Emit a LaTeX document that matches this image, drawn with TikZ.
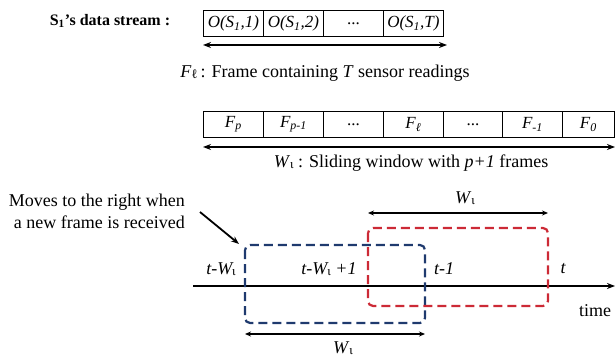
\documentclass[tikz,border=0pt]{standalone}
\usepackage{fontspec}
\setmainfont{Liberation Serif}
\usetikzlibrary{arrows.meta}
\definecolor{navy}{HTML}{1F3A6E}
\definecolor{wred}{HTML}{CC2A36}
\newcommand\mysub[1]{\raisebox{-1.5pt}{\fontsize{13}{14}\selectfont\upshape #1}}
\tikzset{
  txt/.style={inner sep=0pt, font=\fontsize{18}{22}\selectfont},
  itxt/.style={inner sep=0pt, font=\fontsize{18}{22}\selectfont\itshape},
  cell/.style={draw, line width=0.8pt, minimum height=26pt, inner sep=0pt, anchor=north west, font=\fontsize{17}{20}\selectfont\itshape},
  dcell/.style={cell, font=\fontsize{17}{20}\selectfont},
  dbl/.style={{Stealth[length=8pt,width=6pt]}-{Stealth[length=8pt,width=6pt]}, line width=2pt},
  thin/.style={{Stealth[length=6pt,width=5pt]}-{Stealth[length=6pt,width=5pt]}, line width=1.4pt},
  win/.style={dash pattern=on 9pt off 5pt, line width=2.2pt, rounded corners=5pt},
}
\begin{document}
\begin{tikzpicture}[x=1pt,y=-1pt]
\useasboundingbox (0,0) rectangle (615,358);
% title
\node[inner sep=0pt, font=\fontsize{16}{18}\selectfont\bfseries] (title) at (110,21) {S\textsubscript{1}’s data stream :};
% top cells
\node[cell, minimum width=60pt] (o1) at (203,10) {O(S\textsubscript{1},1)};
\node[cell, minimum width=60pt] (o2) at (263,10) {O(S\textsubscript{1},2)};
\node[dcell, minimum width=60pt] (o3) at (323,10) {...};
\node[cell, minimum width=60pt] (o4) at (383,10) {O(S\textsubscript{1},T)};
\coordinate (a1) at (203,45);
\coordinate (a2) at (447,45);
\draw[dbl] (a1) -- (a2);
\node[txt] (flab) at (325,73) {\textit{F}\mysub{ℓ}\,: Frame containing \textit{T} sensor readings};
% second row
\node[cell, minimum width=60pt] (f1) at (203,111) {F\textsubscript{\textit{p}}};
\node[cell, minimum width=60pt] (f2) at (263,111) {F\textsubscript{\textit{p}-1}};
\node[dcell, minimum width=60pt] (f3) at (323,111) {...};
\node[cell, minimum width=60pt] (f4) at (383,111) {F\textsubscript{ℓ}};
\node[dcell, minimum width=59pt] (f5) at (443,111) {...};
\node[cell, minimum width=60pt] (f6) at (502,111) {F\textsubscript{-1}};
\node[cell, minimum width=52pt] (f7) at (562,111) {F\textsubscript{0}};
\coordinate (b1) at (203,147);
\coordinate (b2) at (615,147);
\draw[dbl] (b1) -- (b2);
\node[txt] (wlab) at (411,163) {\textit{W}\mysub{ι} : Sliding window with \textit{p+1} frames};
% moves label
\node[txt, align=right, anchor=east] (moves) at (185,211) {Moves to the right when\\a new frame is received};
\coordinate (m1) at (200,212);
\coordinate (m2) at (239,244);
\draw[-{Stealth[length=8pt,width=6pt]}, line width=1.8pt] (m1) -- (m2);
% time axis
\coordinate (t0) at (193,286);
\coordinate (t1) at (615,286);
\draw[-{Stealth[length=8pt,width=6pt]}, line width=1.8pt] (t0) -- (t1);
% windows
\draw[win, navy] (245,245) rectangle (425,323);
\draw[win, wred] (368,228) rectangle (548,306);
% labels on axis
\node[itxt] (l1) at (221,269) {t-W\mysub{ι}};
\node[itxt] (l2) at (329,269) {t-W\mysub{ι} +1};
\node[itxt] (l3) at (444,269) {t-1};
\node[itxt] (l4) at (563,269) {t};
\node[txt] (time) at (595,311) {time};
% W arrows
\coordinate (w1) at (368,213);
\coordinate (w2) at (548,213);
\draw[thin] (w1) -- (w2);
\node[txt] (wt) at (465,198) {\textit{W}\mysub{ι}};
\coordinate (v1) at (245,334);
\coordinate (v2) at (425,334);
\draw[thin] (v1) -- (v2);
\node[txt] (wb) at (343,348) {\textit{W}\mysub{ι}};
\end{tikzpicture}
\end{document}
